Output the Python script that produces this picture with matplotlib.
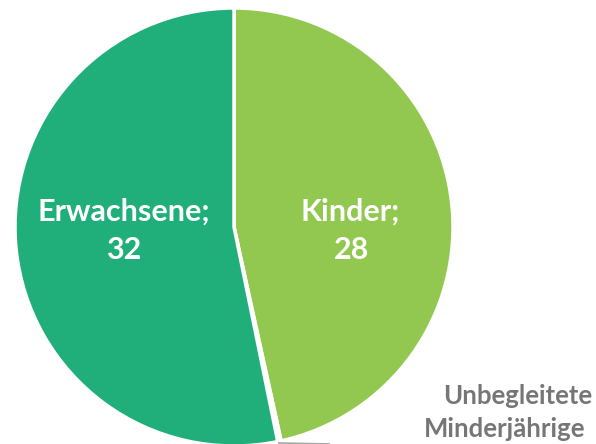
import matplotlib
matplotlib.use("Agg")
import matplotlib.pyplot as plt

categories = ["Kinder", "Unbegleitete Minderjährige", "Erwachsene"]
values = [28, 0.15, 32]
colors = ["#92C84F", "#A6A6A6", "#20AF7A"]

W, H = 596, 444
cx, cy, R = 234, 227, 219

def px(x, y):
    return (x - cx) / R, (cy - y) / R

fig = plt.figure(figsize=(W / 100, H / 100), dpi=100)
ax = fig.add_axes([0, 0, 1, 1])
ax.pie(values, colors=colors, startangle=90, counterclock=False, radius=1,
       wedgeprops=dict(edgecolor="white", linewidth=2.5))
ax.set_xlim(-cx / R, (W - cx) / R)
ax.set_ylim(-(H - cy) / R, cy / R)
ax.set_aspect("equal")
ax.axis("off")

font = "Lato"
fs = 22
ax.text(*px(124, 212), f"{categories[2]};", color="white", fontsize=fs,
        fontweight="bold", family=font, ha="center", va="center")
ax.text(*px(124, 250), f"{values[2]:g}", color="white", fontsize=fs,
        fontweight="bold", family=font, ha="center", va="center")
ax.text(*px(350, 212), f"{categories[0]};", color="white", fontsize=fs,
        fontweight="bold", family=font, ha="center", va="center")
ax.text(*px(352, 250), f"{values[0]:g}", color="white", fontsize=fs,
        fontweight="bold", family=font, ha="center", va="center")

words = categories[1].split()
ax.text(*px(592, 396), words[0], color="#767676", fontsize=18.5,
        fontweight="bold", family=font, ha="right", va="center")
ax.text(*px(585, 429), words[1], color="#767676", fontsize=18.5,
        fontweight="bold", family=font, ha="right", va="center")

# leader line from small slice
x0, y0 = px(278, 443)
x1, y1 = px(330, 444)
ax.plot([x0, x1], [y0, y1], color="#A6A6A6", lw=1.2, solid_capstyle="butt")

fig.savefig("out.png", dpi=100)
